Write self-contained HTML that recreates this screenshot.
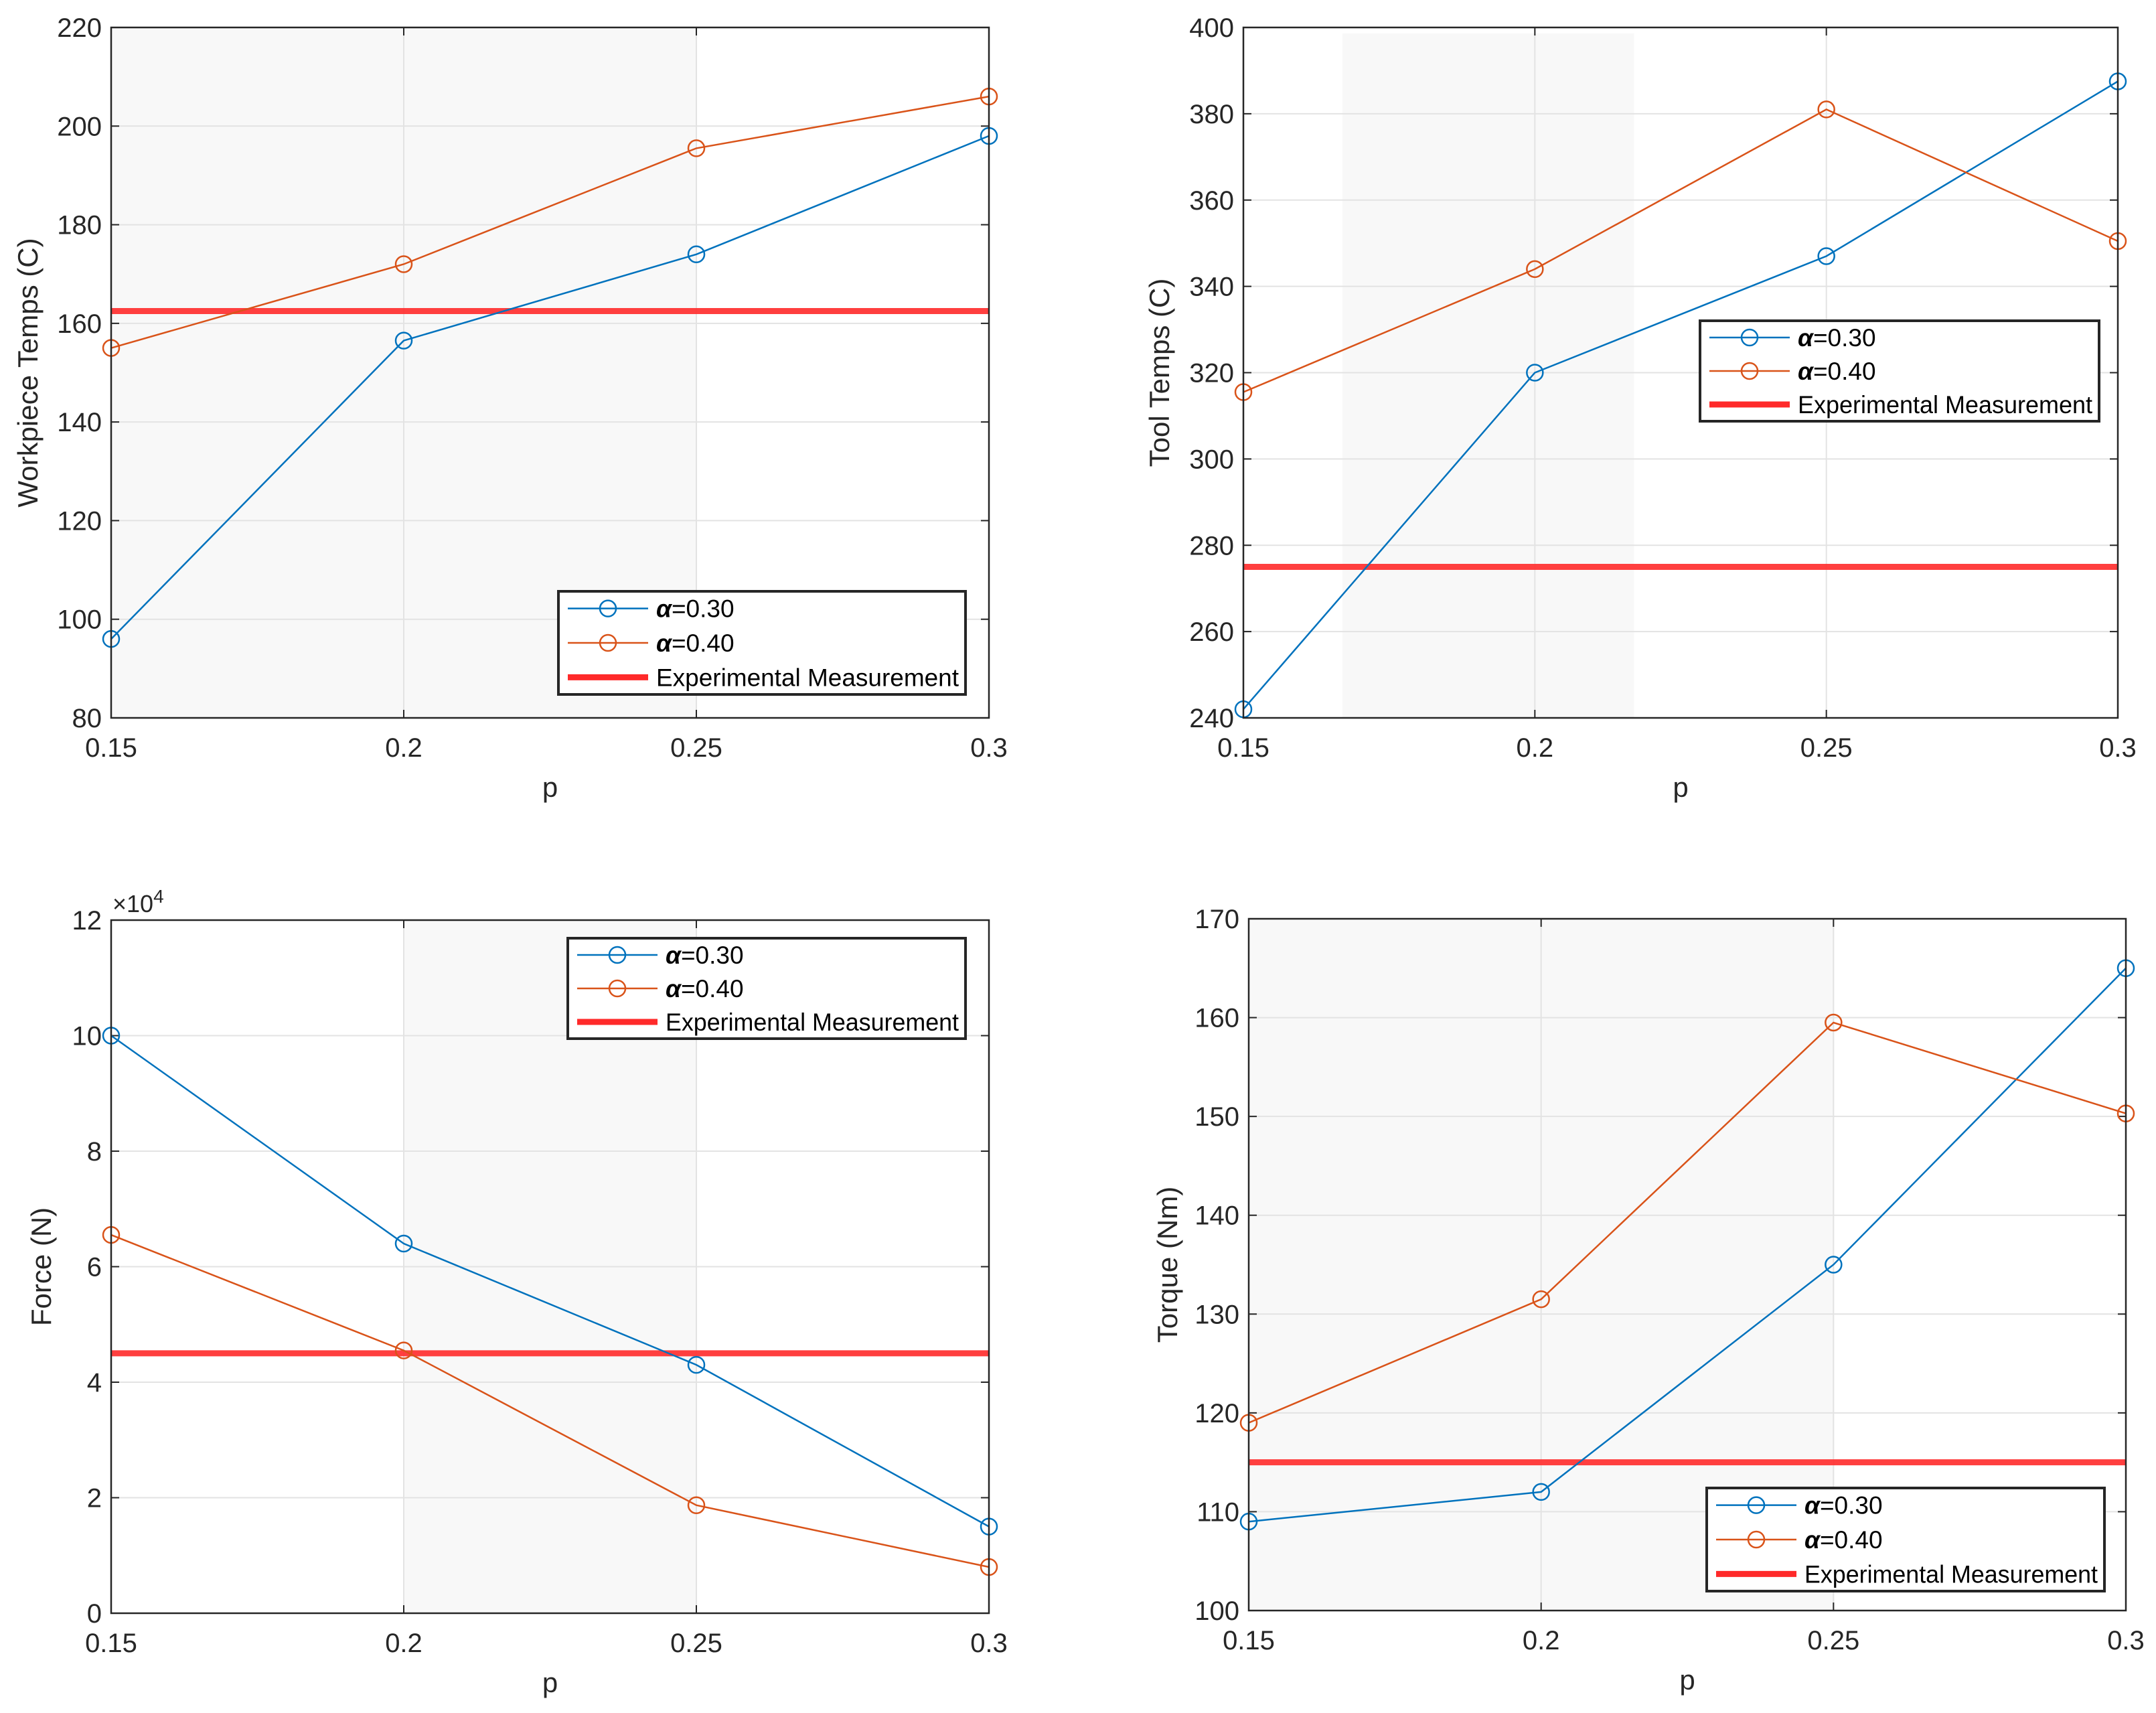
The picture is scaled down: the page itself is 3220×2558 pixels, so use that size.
<!DOCTYPE html>
<html><head><meta charset="utf-8"><style>
html,body{margin:0;padding:0;background:#fff;}
svg{display:block;font-family:"Liberation Sans",Arial,sans-serif;}
</style></head><body>
<svg id="fig" width="3220" height="2558" viewBox="0 0 3220 2558" xmlns="http://www.w3.org/2000/svg"></svg>
<script>
const categories = [0.15, 0.2, 0.25, 0.3];
const xTicks = ["0.15", "0.2", "0.25", "0.3"];
const wpBlue = [96, 156.5, 174, 198];
const wpOrange = [155, 172, 195.5, 206];
const wpExp = 162.5;
const wpTicks = [80, 100, 120, 140, 160, 180, 200, 220];
const toolBlue = [242, 320, 347, 387.5];
const toolOrange = [315.5, 344, 381, 350.5];
const toolExp = 275;
const toolTicks = [240, 260, 280, 300, 320, 340, 360, 380, 400];
const forceBlue = [10, 6.4, 4.3, 1.5];
const forceOrange = [6.55, 4.55, 1.87, 0.8];
const forceExp = 4.5;
const forceTicks = [0, 2, 4, 6, 8, 10, 12];
const torqueBlue = [109, 112, 135, 165];
const torqueOrange = [119, 131.5, 159.5, 150.3];
const torqueExp = 115;
const torqueTicks = [100, 110, 120, 130, 140, 150, 160, 170];

const NS = "http://www.w3.org/2000/svg";
const fig = document.getElementById('fig');
function mk(tag, attrs, parent, text){
  const e = document.createElementNS(NS, tag);
  for (const k in attrs) e.setAttribute(k, attrs[k]);
  if (text !== undefined) e.textContent = text;
  parent.appendChild(e);
  return e;
}

function panel(cfg){
  const g = mk('g', {}, fig);
  
  
  const {x0,x1,y0,y1} = cfg;
  const ymin = cfg.ticks[0], ymax = cfg.ticks[cfg.ticks.length-1];
  const xs = v => x0 + (v - 0.15) / 0.15 * (x1 - x0);
  const ys = v => y1 - (v - ymin) / (ymax - ymin) * (y1 - y0);
  mk('rect', {x:x0, y:y0, width:x1-x0, height:y1-y0, fill:'#fff'}, g);
  const sh = mk('rect', {x:xs(cfg.shade[0]), y:cfg.shadeTop||y0, width:xs(cfg.shade[1])-xs(cfg.shade[0]), height:y1-(cfg.shadeTop||y0), fill:'#f8f8f8'}, g);
  
  
  cfg.ticks.forEach(t => {
    const y = ys(t);
    mk('line', {x1:x0, x2:x1, y1:y, y2:y, stroke:'#e3e3e3', 'stroke-width':2}, g);
    mk('line', {x1:x0, x2:x0+12, y1:y, y2:y, stroke:'#262626', 'stroke-width':2}, g);
    mk('line', {x1:x1-12, x2:x1, y1:y, y2:y, stroke:'#262626', 'stroke-width':2}, g);
    const tl = mk('text', {x:x0-14, y:y+14, 'text-anchor':'end', 'font-size':40, fill:'#262626'}, g, t);
    
    
  });
  categories.forEach((c, i) => {
    const x = xs(c);
    mk('line', {x1:x, x2:x, y1:y0, y2:y1, stroke:'#e3e3e3', 'stroke-width':2}, g);
    mk('line', {x1:x, x2:x, y1:y1, y2:y1-12, stroke:'#262626', 'stroke-width':2}, g);
    mk('line', {x1:x, x2:x, y1:y0, y2:y0+12, stroke:'#262626', 'stroke-width':2}, g);
    const tl = mk('text', {x:x, y:y1+58, 'text-anchor':'middle', 'font-size':40, fill:'#262626'}, g, xTicks[i]);
    
    
  });
  const ex = mk('line', {x1:x0, x2:x1, y1:ys(cfg.exp), y2:ys(cfg.exp), stroke:'#ff2a2a', 'stroke-width':9, 'stroke-opacity':0.9}, g);
  
  
  [[cfg.blue,'#0072bd','series-alpha-030'],[cfg.orange,'#d95319','series-alpha-040']].forEach(([vals,col,nm]) => {
    const pts = vals.map((v,i) => xs(categories[i]).toFixed(1) + ',' + ys(v).toFixed(1)).join(' ');
    const pl = mk('polyline', {points:pts, fill:'none', stroke:col, 'stroke-width':2.5}, g);
    
    
    vals.forEach((v,i) => {
      const c = mk('circle', {cx:xs(categories[i]), cy:ys(v), r:12, fill:'none', stroke:col, 'stroke-width':2.5}, g);
      
      
    });
  });
  mk('rect', {x:x0, y:y0, width:x1-x0, height:y1-y0, fill:'none', stroke:'#262626', 'stroke-width':2.5}, g);
  const xl = mk('text', {x:(x0+x1)/2, y:y1+118, 'text-anchor':'middle', 'font-size':42, fill:'#262626'}, g, 'p');
  
  
  const yl = mk('text', {x:0, y:0, transform:`translate(${cfg.ylx},${(y0+y1)/2}) rotate(-90)`, 'text-anchor':'middle', 'font-size':42, fill:'#262626'}, g, cfg.ylabel);
  
  
  if (cfg.exponent) {
    const e = mk('text', {x:x0+2, y:y0-12, 'font-size':36, fill:'#262626'}, g);
    
    
    e.textContent = '×10';
    mk('tspan', {dy:-14, 'font-size':28}, e, '4');
  }
  const L = cfg.leg;
  const lg = mk('g', {}, g);
  
  
  mk('rect', {x:L[0], y:L[1], width:L[2], height:L[3], fill:'#fff', stroke:'#262626', 'stroke-width':4}, lg);
  const rowH = L[3]/3;
  const items = [['#0072bd','α=0.30',true],['#d95319','α=0.40',true],['#ff2a2a','Experimental Measurement',false]];
  items.forEach((it, i) => {
    const cy = L[1] + rowH*(i+0.5);
    const ent = mk('g', {}, lg);
    
    
    if (it[2]) {
      mk('line', {x1:L[0]+14, x2:L[0]+134, y1:cy, y2:cy, stroke:it[0], 'stroke-width':2.5}, ent);
      mk('circle', {cx:L[0]+74, cy:cy, r:12, fill:'none', stroke:it[0], 'stroke-width':2.5}, ent);
      const t = mk('text', {x:L[0]+146, y:cy+13, 'font-size':37, fill:'#000'}, ent);
      mk('tspan', {'font-style':'italic','font-weight':'bold'}, t, 'α');
      mk('tspan', {}, t, it[1].slice(1));
    } else {
      mk('line', {x1:L[0]+14, x2:L[0]+134, y1:cy, y2:cy, stroke:it[0], 'stroke-width':9}, ent);
      mk('text', {x:L[0]+146, y:cy+13, 'font-size':37, fill:'#000', textLength:L[2]-156, lengthAdjust:'spacingAndGlyphs'}, ent, it[1]);
    }
  });
}

panel({name:'workpiece-temp-chart', x0:166, x1:1477, y0:41, y1:1072, ticks:wpTicks, blue:wpBlue, orange:wpOrange, exp:wpExp, shade:[0.15,0.25], ylabel:'Workpiece Temps (C)', ylx:56, leg:[834,883,608,154]});
panel({name:'tool-temp-chart', x0:1857, x1:3163, y0:41, y1:1072, ticks:toolTicks, blue:toolBlue, orange:toolOrange, exp:toolExp, shade:[0.167,0.217], shadeTop:50, ylabel:'Tool Temps (C)', ylx:1746, leg:[2539,479,596,150]});
panel({name:'force-chart', x0:166, x1:1477, y0:1374, y1:2409, ticks:forceTicks, blue:forceBlue, orange:forceOrange, exp:forceExp, shade:[0.2,0.25], ylabel:'Force (N)', ylx:76, exponent:true, leg:[848,1401,594,150]});
panel({name:'torque-chart', x0:1865, x1:3175, y0:1372, y1:2405, ticks:torqueTicks, blue:torqueBlue, orange:torqueOrange, exp:torqueExp, shade:[0.15,0.25], ylabel:'Torque (Nm)', ylx:1758, leg:[2549,2222,594,154]});
</script>
</body></html>
